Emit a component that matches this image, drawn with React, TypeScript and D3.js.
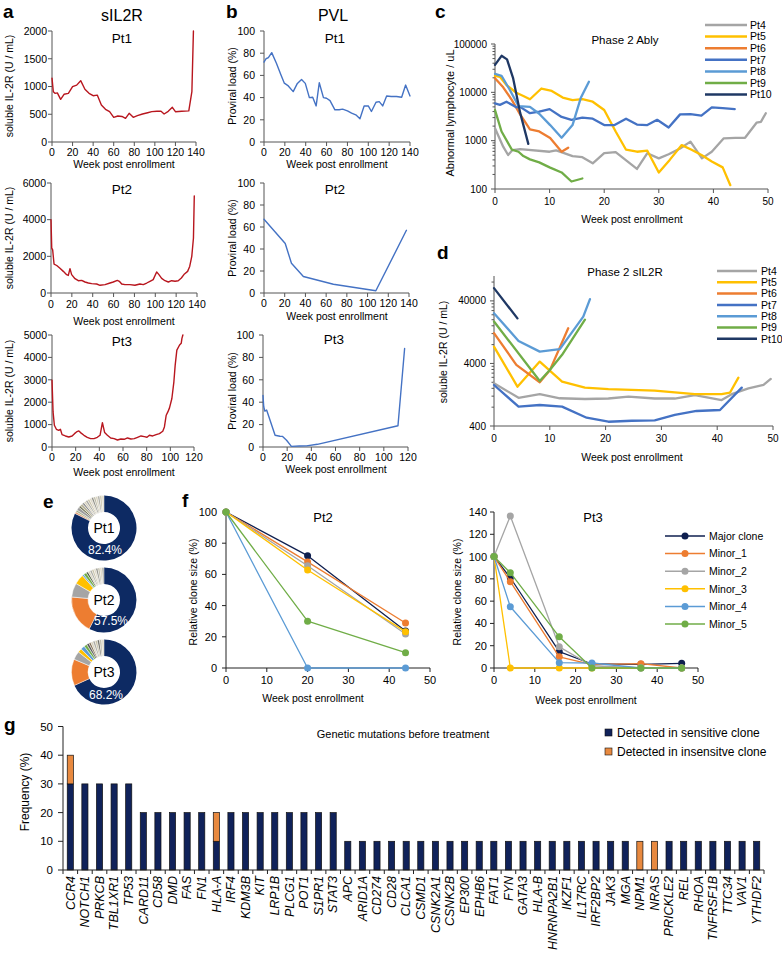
import React from "react";
import * as d3 from "d3";

type Pt = [number, number];
const FONT = "'Liberation Sans', Arial, Helvetica, sans-serif";

// ---------- a: soluble IL-2R (U/mL) ----------
const sil2rPt1: Pt[] = [[0,1150],[1.3,906],[2.9,877],[5.2,885],[8.4,769],[11.7,860],[15.9,877],[20,996],[24,1025],[27.9,1105],[32,950],[36,877],[40,834],[44,845],[48,667],[52,589],[56,546],[60,445],[64,469],[68,460],[71.5,427],[75,517],[79,445],[83,475],[88,505],[93,528],[97,547],[102,553],[106,553],[109,505],[113,553],[117,625],[120,546],[126,553],[133,560],[136,906],[137.5,2000]];
const sil2rPt2: Pt[] = [[0,4000],[0.7,2450],[1.6,2350],[2.9,1580],[5.5,1500],[8.6,1350],[11.8,1180],[15,1000],[16.6,960],[18.2,1330],[19.8,1000],[23,780],[26.2,670],[29.4,690],[32.6,600],[35.8,545],[39,510],[43.8,490],[47,420],[51.8,455],[56.6,545],[59.7,600],[63.6,690],[65.5,640],[67.8,490],[70.9,455],[75.7,455],[80.5,420],[85.3,490],[88.5,455],[91.8,545],[94.9,640],[98,730],[101.3,1150],[103.5,1000],[106.1,800],[109.3,670],[112.5,600],[115.7,670],[119,640],[122,670],[125,820],[128,1040],[131,1180],[133,1450],[135,2000],[136.6,3000],[137.4,5300]];
const sil2rPt3: Pt[] = [[0,2985],[0.9,1567],[2,970],[3.7,791],[5.7,746],[7.1,791],[8.5,552],[11.3,493],[14.2,448],[17,493],[19,597],[20.7,672],[22.7,716],[24.1,642],[27,522],[29.8,433],[32.6,373],[35.5,373],[38.3,433],[40.6,522],[42.6,1090],[44.5,642],[46.8,522],[49.6,403],[52.5,373],[55.3,313],[58.2,358],[61,343],[63.8,403],[66.7,358],[69.5,373],[72.3,433],[75.2,493],[78,463],[80.3,433],[82.3,522],[85.1,493],[88,552],[90.8,597],[93.6,701],[95,895],[96.5,1418],[97.9,1567],[99.3,1746],[101.3,2164],[103,2910],[104.1,3657],[105.5,4328],[107.8,4552],[109.2,4627],[109.8,4850],[110.6,5000]];

// ---------- b: proviral load (%) ----------
const pvlPt1: Pt[] = [[0,72],[1.9,75],[4.2,76],[7.4,80.5],[12,70.7],[16,61],[19.5,53],[23.3,50.5],[28,45.4],[32,52.8],[36,56.4],[39.6,52.8],[43.5,40],[46.7,40.3],[50,32.5],[53,53.4],[57,40],[60,39.4],[63.3,37.3],[68,29],[72,29],[75.4,29.6],[80,28],[84,26],[88,24.5],[92,21],[96,32.5],[100,32.5],[103,27.5],[107.4,35.8],[110.5,36.4],[113.8,32.5],[117.6,41.5],[122,41],[127,41],[132,40.3],[135.8,51.3],[140,41.5]];
const pvlPt2: Pt[] = [[0,67],[20.5,45],[26.5,27],[38,15],[67,8],[108,2],[137.5,57]];
const pvlPt3: Pt[] = [[0,46],[0.6,36],[1.5,32],[3,33],[10,10.5],[14,9.6],[16,9.5],[19.5,6],[23.5,0.6],[30,0.9],[36,1],[45,2.4],[111.7,19],[117.2,88]];

// ---------- c: Phase 2 Ably, abnormal lymphocyte / uL ----------
const patients = ["Pt4","Pt5","Pt6","Pt7","Pt8","Pt9","Pt10"];
const patientColors = ["#A5A5A5","#FFC000","#ED7D31","#4472C4","#5B9BD5","#70AD47","#1F3864"];
const ablyPt4: Pt[] = [[0,1800],[1.5,750],[2.4,505],[3.2,640],[4.6,670],[10,590],[11.2,630],[12.4,565],[14.2,480],[16,455],[17.9,340],[20,550],[22.1,580],[26,260],[27.9,550],[30,430],[31.8,525],[33.9,690],[35.8,955],[37.9,430],[39.7,590],[41.9,1120],[44,1140],[45.8,1150],[47.9,2350],[48.7,2450],[49.6,3700]];
const ablyPt5: Pt[] = [[0,21800],[0.9,21000],[2.1,14100],[3.9,9800],[5.2,8400],[6.4,7200],[8.5,12000],[10.4,10700],[12.4,7800],[14.2,6900],[16,7200],[17.9,6400],[20,4300],[22.1,1550],[24,650],[26,590],[27.9,620],[30,220],[32,400],[34.2,810],[36,650],[37.9,500],[39.7,370],[41.7,280],[43.1,120]];
const ablyPt6: Pt[] = [[0,19500],[1.5,12700],[3.1,6900],[4.6,3500],[6.4,1720],[8.1,1550],[10.1,1130],[12.2,590],[13.4,715]];
const ablyPt7: Pt[] = [[0,5900],[0.9,5500],[2.1,6400],[3.9,4900],[4.6,5000],[6.4,3700],[8.1,4000],[10,4500],[12.2,3100],[14,2700],[16,3000],[17.9,2850],[20,2100],[21.9,2100],[24,2850],[26,2150],[27.9,2100],[29.7,2700],[31.8,1870],[33.9,3500],[35.8,3550],[37.8,3300],[39.7,4900],[41.7,4700],[43.9,4500]];
const ablyPt8: Pt[] = [[0,24000],[1.2,22000],[2.7,11300],[4.3,5200],[6.4,5000],[8.1,3600],[10.1,2100],[12.2,1150],[14.2,2100],[15.7,7600],[17.2,16600]];
const ablyPt9: Pt[] = [[0,4300],[1.2,1550],[3.1,650],[4.3,590],[5.2,480],[6.4,410],[8.1,355],[10,280],[12.2,220],[14,143],[16,165]];
const ablyPt10: Pt[] = [[0,37000],[1.2,57000],[2.2,48000],[3.3,20000],[4.6,3800],[6.1,860]];

// ---------- d: Phase 2 sIL2R (U/mL) ----------
const dPt4: Pt[] = [[0,1930],[4.4,1130],[8.2,1290],[11.8,1110],[16.3,1080],[20.5,1100],[24.1,1180],[28.8,1100],[32.4,1100],[36,1250],[40.8,1040],[42.6,1290],[45.6,1600],[48.3,1810],[49.6,2260]];
const dPt5: Pt[] = [[0,7430],[4.2,1700],[8.2,4280],[12.2,2050],[16.3,1640],[20.5,1550],[28.8,1470],[36,1290],[40.8,1290],[42.3,1370],[43.8,2370]];
const dPt6: Pt[] = [[0,12200],[4,3800],[8.2,2000],[10,3100],[13.3,14600]];
const dPt7: Pt[] = [[0,1810],[4.4,815],[8.2,867],[12.2,815],[16.6,543],[20.5,468],[24.7,485],[28.8,493],[32.4,602],[36.3,695],[40.5,721],[44.4,1640]];
const dPt8: Pt[] = [[0,25400],[4.4,9160],[8.2,6180],[11.8,6760],[16,22400],[17.2,42700]];
const dPt9: Pt[] = [[0,18700],[8.2,2100],[10,3150],[12.2,5500],[16.3,20000]];
const dPt10: Pt[] = [[0,64000],[4.2,21000]];

// ---------- e: clone composition (%) ----------
const donutPt1 = [82.4,1.0,1.0,1.6,1.0,1.4,1.0,1.06,1.06,1.06,1.06,1.06,1.06,1.06,1.06,1.06,1.06];
const donutPt1Colors = ["#0D2A63","#E39A6E","#A9B08A","#9C9C9C","#6E7050","#B8B49A","#8C8C8C","#D6D0BB","#A8A8A0","#C8C2A8","#DCD6C4","#8E8E84","#BEBAA6","#D6D0BB","#A8A8A0","#C8C2A8","#DCD6C4"];
const donutPt2 = [57.5,19,7,5,0.8,1.5,1.0,1.025,1.025,1.025,1.025,1.025,1.025,1.025,1.025];
const donutPt2Colors = ["#0D2A63","#ED7D31","#A5A5A5","#FFC000","#5B9BD5","#70AD47","#4C5A3C","#D6D0BB","#A8A8A0","#C8C2A8","#DCD6C4","#8E8E84","#BEBAA6","#D6D0BB","#A8A8A0"];
const donutPt3 = [68.2,13.2,4.2,2,2,1.5,1.2,1.0,1.117,1.117,1.117,1.117,1.117,1.115];
const donutPt3Colors = ["#0D2A63","#ED7D31","#A5A5A5","#FFC000","#5B9BD5","#70AD47","#595959","#7F6A4F","#D6D0BB","#A8A8A0","#C8C2A8","#6E6E66","#BEBAA6","#DCD6C4"];
const donutLabels = ["82.4%","57.5%","68.2%"];

// ---------- f: relative clone size (%) ----------
const clones = ["Major clone","Minor_1","Minor_2","Minor_3","Minor_4","Minor_5"];
const cloneColors = ["#0F1F4F","#ED7D31","#A5A5A5","#FFC000","#5B9BD5","#70AD47"];
const fWeeksPt2 = [0,20,44];
const fPt2Values = [[100,72,23.7],[100,68,28.8],[100,65.5,21.8],[100,62.8,23.3],[100,0,0],[100,30,9.8]];
const fWeeksPt3 = [0,4,16,24,36,46];
const fPt3Values = [[100,81,14.6,3.6,3.3,4.2],[100,77.5,10,3,3.9,0],[100,136.4,19,2,0,0],[100,0,0,0,0,0],[100,55,4.8,4.5,0,0],[100,85.5,28,0,0,0]];

// ---------- g: genetic mutations ----------
const genes = ["CCR4","NOTCH1","PRKCB","TBL1XR1","TP53","CARD11","CD58","DMD","FAS","FN1","HLA-A","IRF4","KDM3B","KIT","LRP1B","PLCG1","POT1","S1PR1","STAT3","APC","ARID1A","CD274","CD28","CLCA1","CSMD1","CSNK2A1","CSNK2B","EP300","EPHB6","FAT1","FYN","GATA3","HLA-B","HNRNPA2B1","IKZF1","IL17RC","IRF2BP2","JAK3","MGA","NPM1","NRAS","PRICKLE2","REL","RHOA","TNFRSF1B","TTC34","VAV1","YTHDF2"];
const sensitive = [30,30,30,30,30,20,20,20,20,20,10,20,20,20,20,20,20,20,20,10,10,10,10,10,10,10,10,10,10,10,10,10,10,10,10,10,10,10,10,0,0,10,10,10,10,10,10,10];
const insensitive = [10,0,0,0,0,0,0,0,0,0,10,0,0,0,0,0,0,0,0,0,0,0,0,0,0,0,0,0,0,0,0,0,0,0,0,0,0,0,0,10,10,0,0,0,0,0,0,0];
const gLegend = ["Detected in sensitive clone","Detected in insensitve clone"];
const gColors = ["#10225A","#E8893F"];

const range = (a: number, b: number, s: number) => d3.range(a, b + s / 2, s);

type Series = { data: Pt[]; color: string; width: number; marker?: number };

function Chart(p: {
  xs: any; ys: any; xTicks: number[]; yTicks: number[]; yMinor?: number[];
  series: Series[]; tickFont: number; xTickDy: number; yTickGap: number;
  axisColor?: string; tickLen?: number;
}) {
  const ac = p.axisColor ?? "#555";
  const tl = p.tickLen ?? 4;
  const [x0, x1] = p.xs.range();
  const [yb, yt] = p.ys.range();
  const line = d3.line<Pt>().x(d => p.xs(d[0])).y(d => p.ys(d[1]));
  return (
    <g>
      <line x1={x0} x2={x1} y1={yb} y2={yb} stroke={ac} strokeWidth={1} />
      <line x1={x0} x2={x0} y1={yb} y2={yt} stroke={ac} strokeWidth={1} />
      {p.xTicks.map(t => (
        <g key={"x" + t}>
          <line x1={p.xs(t)} x2={p.xs(t)} y1={yb} y2={yb + tl} stroke={ac} />
          <text x={p.xs(t)} y={yb + p.xTickDy} fontSize={p.tickFont} textAnchor="middle">{t}</text>
        </g>
      ))}
      {p.yTicks.map(t => (
        <g key={"y" + t}>
          <line x1={x0 - tl} x2={x0} y1={p.ys(t)} y2={p.ys(t)} stroke={ac} />
          <text x={x0 - p.yTickGap} y={p.ys(t) + p.tickFont * 0.36} fontSize={p.tickFont} textAnchor="end">{t}</text>
        </g>
      ))}
      {(p.yMinor ?? []).map(t => (
        <line key={"m" + t} x1={x0 - 2.5} x2={x0} y1={p.ys(t)} y2={p.ys(t)} stroke={ac} />
      ))}
      {p.series.map((s, i) => (
        <g key={i}>
          <path d={line(s.data) ?? ""} fill="none" stroke={s.color} strokeWidth={s.width} strokeLinejoin="round" strokeLinecap="round" />
          {s.marker ? s.data.map((d, j) => (
            <circle key={j} cx={p.xs(d[0])} cy={p.ys(d[1])} r={s.marker} fill={s.color} />
          )) : null}
        </g>
      ))}
    </g>
  );
}

function VText(p: { x: number; y: number; size: number; children: React.ReactNode }) {
  return (
    <text transform={`translate(${p.x},${p.y}) rotate(-90)`} fontSize={p.size} textAnchor="middle">{p.children}</text>
  );
}

function Donut(p: { cx: number; cy: number; values: number[]; colors: string[]; name: string; pct: string; pctX: number; pctY: number }) {
  const pie = d3.pie<number>().sort(null).value(d => d);
  const arc = d3.arc<d3.PieArcDatum<number>>().innerRadius(16).outerRadius(32.5);
  const arcs = pie(p.values);
  return (
    <g>
      <g transform={`translate(${p.cx},${p.cy})`}>
        {arcs.map((a, i) => (
          <path key={i} d={arc(a) ?? ""} fill={p.colors[i]} stroke="#fff" strokeWidth={i === 0 ? 0 : 0.5} />
        ))}
        <text x={0} y={5} fontSize={14} textAnchor="middle">{p.name}</text>
      </g>
      <text x={p.pctX} y={p.pctY} fontSize={12} fill="#fff" textAnchor="middle">{p.pct}</text>
    </g>
  );
}

export default function App() {
  const lin = (d0: number, d1: number, r0: number, r1: number) => d3.scaleLinear().domain([d0, d1]).range([r0, r1]);
  const red = "#B8161E";
  const blue = "#4472C4";

  // c / d
  const cx = lin(0, 50, 495, 768);
  const cy = d3.scaleLog().domain([100, 100000]).range([189, 44]);
  const cMinor: number[] = [];
  [100, 1000, 10000].forEach(dec => d3.range(2, 10).forEach(k => cMinor.push(dec * k)));
  const dx = lin(0, 50, 494, 773);
  const dy = d3.scaleLog().domain([400, 100000]).range([426, 276]);
  const dMinor: number[] = [];
  [400, 4000, 40000].forEach(dec => d3.range(2, 10).forEach(k => { if (dec * k <= 100000) dMinor.push(dec * k); }));
  const ablyData = [ablyPt4, ablyPt5, ablyPt6, ablyPt7, ablyPt8, ablyPt9, ablyPt10];
  const dData = [dPt4, dPt5, dPt6, dPt7, dPt8, dPt9, dPt10];

  // f
  const f2x = lin(0, 50, 226, 430);
  const f2y = lin(0, 100, 668, 512);
  const f3x = lin(0, 50, 494, 698);
  const f3y = lin(0, 140, 668, 512);
  const f2Series: Series[] = fPt2Values.map((v, i) => ({ data: v.map((y, j) => [fWeeksPt2[j], y] as Pt), color: cloneColors[i], width: 1.3, marker: 3.5 }));
  const f3Series: Series[] = fPt3Values.map((v, i) => ({ data: v.map((y, j) => [fWeeksPt3[j], y] as Pt), color: cloneColors[i], width: 1.3, marker: 3.5 }));

  // g
  const gx = d3.scaleBand<string>().domain(genes).range([63, 764]).paddingInner(0.58).paddingOuter(0.29);
  const gy = lin(0, 50, 870, 726.5);
  const step = gx.step();

  const bold = { fontSize: 19, fontWeight: 700 } as const;
  const tf = 10.5;

  return (
    <svg width={782} height={953} viewBox="0 0 782 953" fontFamily={FONT}
      style={{ position: "absolute", left: 0, top: 0, background: "#fff" }}>
      <rect width={782} height={953} fill="#fff" />

      {/* ---------- a ---------- */}
      <text x={3} y={18} {...bold}>a</text>
      <text x={122} y={21} fontSize={16} textAnchor="middle">sIL2R</text>
      <Chart xs={lin(0, 140, 52, 196)} ys={lin(0, 2000, 142, 31)} xTicks={range(0, 140, 20)} yTicks={range(0, 2000, 500)}
        series={[{ data: sil2rPt1, color: red, width: 1.4 }]} tickFont={tf} xTickDy={14} yTickGap={5} />
      <text x={122} y={43} fontSize={13.5} textAnchor="middle">Pt1</text>
      <text x={124} y={168} fontSize={10.5} textAnchor="middle">Week post enrollment</text>
      <VText x={13} y={86} size={10.5}>soluble IL-2R (U / mL)</VText>

      <Chart xs={lin(0, 140, 51, 197)} ys={lin(0, 6000, 293, 183)} xTicks={range(0, 140, 20)} yTicks={range(0, 6000, 2000)}
        series={[{ data: sil2rPt2, color: red, width: 1.4 }]} tickFont={tf} xTickDy={15} yTickGap={5} />
      <text x={122} y={194} fontSize={13.5} textAnchor="middle">Pt2</text>
      <text x={124} y={325} fontSize={10.5} textAnchor="middle">Week post enrollment</text>
      <VText x={13} y={238} size={10.5}>soluble IL-2R (U / mL)</VText>

      <Chart xs={lin(0, 120, 52, 194)} ys={lin(0, 5000, 447, 335)} xTicks={range(0, 120, 20)} yTicks={range(0, 5000, 1000)}
        series={[{ data: sil2rPt3, color: red, width: 1.4 }]} tickFont={tf} xTickDy={14} yTickGap={5} />
      <text x={122} y={346} fontSize={13.5} textAnchor="middle">Pt3</text>
      <text x={124} y={476} fontSize={10.5} textAnchor="middle">Week post enrollment</text>
      <VText x={13} y={391} size={10.5}>soluble IL-2R (U / mL)</VText>

      {/* ---------- b ---------- */}
      <text x={226} y={18} {...bold}>b</text>
      <text x={333} y={21} fontSize={16} textAnchor="middle">PVL</text>
      <Chart xs={lin(0, 140, 264, 410)} ys={lin(0, 100, 142, 31)} xTicks={range(0, 140, 20)} yTicks={range(0, 100, 20)}
        series={[{ data: pvlPt1, color: blue, width: 1.4 }]} tickFont={tf} xTickDy={14} yTickGap={9} />
      <text x={335} y={43} fontSize={13.5} textAnchor="middle">Pt1</text>
      <text x={337} y={168} fontSize={10.5} textAnchor="middle">Week post enrollment</text>
      <VText x={236} y={86} size={10.5}>Proviral load (%)</VText>

      <Chart xs={lin(0, 140, 264, 409)} ys={lin(0, 100, 293, 183)} xTicks={range(0, 140, 20)} yTicks={range(0, 100, 20)}
        series={[{ data: pvlPt2, color: blue, width: 1.4 }]} tickFont={tf} xTickDy={14} yTickGap={9} />
      <text x={335} y={194} fontSize={13.5} textAnchor="middle">Pt2</text>
      <text x={337} y={320} fontSize={10.5} textAnchor="middle">Week post enrollment</text>
      <VText x={236} y={238} size={10.5}>Proviral load (%)</VText>

      <Chart xs={lin(0, 120, 263, 408)} ys={lin(0, 100, 447, 335)} xTicks={range(0, 120, 20)} yTicks={range(0, 100, 20)}
        series={[{ data: pvlPt3, color: blue, width: 1.4 }]} tickFont={tf} xTickDy={14} yTickGap={9} />
      <text x={334} y={344} fontSize={13.5} textAnchor="middle">Pt3</text>
      <text x={336} y={473} fontSize={10.5} textAnchor="middle">Week post enrollment</text>
      <VText x={236} y={391} size={10.5}>Proviral load (%)</VText>

      {/* ---------- c ---------- */}
      <text x={435} y={18} {...bold}>c</text>
      <Chart xs={cx} ys={cy} xTicks={range(0, 50, 10)} yTicks={[100, 1000, 10000, 100000]} yMinor={cMinor}
        series={ablyData.map((d, i) => ({ data: d, color: patientColors[i], width: 2.3 }))}
        tickFont={10} xTickDy={16} yTickGap={8} />
      <text x={625} y={44} fontSize={11.5} textAnchor="middle">Phase 2 Ably</text>
      <text x={632} y={223} fontSize={10.5} textAnchor="middle">Week post enrollment</text>
      <VText x={454} y={113} size={11}>Abnormal lymphocyte / uL</VText>
      {patients.map((n, i) => (
        <g key={n}>
          <line x1={705} x2={747} y1={25 + i * 11.6} y2={25 + i * 11.6} stroke={patientColors[i]} strokeWidth={2.5} />
          <text x={750} y={25 + i * 11.6 + 3.8} fontSize={10.5}>{n}</text>
        </g>
      ))}

      {/* ---------- d ---------- */}
      <text x={437} y={259} {...bold}>d</text>
      <Chart xs={dx} ys={dy} xTicks={range(0, 50, 10)} yTicks={[400, 4000, 40000]} yMinor={dMinor}
        series={dData.map((d, i) => ({ data: d, color: patientColors[i], width: 2.3 }))}
        tickFont={10} xTickDy={16} yTickGap={8} />
      <text x={625} y={276} fontSize={11.5} textAnchor="middle">Phase 2 sIL2R</text>
      <text x={632} y={461} fontSize={10.5} textAnchor="middle">Week post enrollment</text>
      <VText x={447} y={352} size={10.5}>soluble IL-2R (U / mL)</VText>
      {patients.map((n, i) => (
        <g key={n}>
          <line x1={717} x2={757} y1={271 + i * 11.3} y2={271 + i * 11.3} stroke={patientColors[i]} strokeWidth={2.5} />
          <text x={761} y={271 + i * 11.3 + 3.8} fontSize={10.5}>{n}</text>
        </g>
      ))}

      {/* ---------- e ---------- */}
      <text x={43} y={508} {...bold}>e</text>
      <Donut cx={104} cy={528} values={donutPt1} colors={donutPt1Colors} name="Pt1" pct={donutLabels[0]} pctX={105} pctY={554} />
      <Donut cx={104} cy={600} values={donutPt2} colors={donutPt2Colors} name="Pt2" pct={donutLabels[1]} pctX={111} pctY={625} />
      <Donut cx={104} cy={672} values={donutPt3} colors={donutPt3Colors} name="Pt3" pct={donutLabels[2]} pctX={106} pctY={699} />

      {/* ---------- f ---------- */}
      <text x={182} y={507} {...bold}>f</text>
      <Chart xs={f2x} ys={f2y} xTicks={range(0, 50, 10)} yTicks={range(0, 100, 20)} series={f2Series}
        tickFont={11} xTickDy={16} yTickGap={9} axisColor="#222" />
      <text x={323} y={522} fontSize={13} textAnchor="middle">Pt2</text>
      <text x={313} y={702} fontSize={10.5} textAnchor="middle">Week post enrollment</text>
      <VText x={197} y={592} size={10.5}>Relative clone size (%)</VText>

      <Chart xs={f3x} ys={f3y} xTicks={range(0, 50, 10)} yTicks={range(0, 140, 20)} series={f3Series}
        tickFont={11} xTickDy={16} yTickGap={7} axisColor="#222" />
      <text x={593} y={522} fontSize={13} textAnchor="middle">Pt3</text>
      <text x={586} y={704} fontSize={10.5} textAnchor="middle">Week post enrollment</text>
      <VText x={461} y={592} size={10.5}>Relative clone size (%)</VText>
      {clones.map((n, i) => (
        <g key={n}>
          <line x1={665} x2={705} y1={536 + i * 17.6} y2={536 + i * 17.6} stroke={cloneColors[i]} strokeWidth={1.5} />
          <circle cx={685} cy={536 + i * 17.6} r={3.5} fill={cloneColors[i]} />
          <text x={709} y={536 + i * 17.6 + 3.8} fontSize={10.5}>{n}</text>
        </g>
      ))}

      {/* ---------- g ---------- */}
      <text x={4} y={731} {...bold}>g</text>
      <line x1={63} x2={63} y1={870} y2={726.5} stroke="#222" />
      {range(0, 50, 10).map(t => (
        <g key={t}>
          <line x1={58} x2={63} y1={gy(t)} y2={gy(t)} stroke="#222" />
          <text x={53} y={gy(t) + 4} fontSize={11.5} textAnchor="end">{t}</text>
        </g>
      ))}
      <VText x={29} y={792} size={12}>Frequency (%)</VText>
      {genes.map((g, i) => {
        const x = gx(g) ?? 0;
        const w = gx.bandwidth();
        return (
          <g key={g}>
            {sensitive[i] > 0 && (
              <rect x={x} y={gy(sensitive[i])} width={w} height={gy(0) - gy(sensitive[i])} fill={gColors[0]} stroke="#111" strokeWidth={0.7} />
            )}
            {insensitive[i] > 0 && (
              <rect x={x} y={gy(sensitive[i] + insensitive[i])} width={w} height={gy(sensitive[i]) - gy(sensitive[i] + insensitive[i])} fill={gColors[1]} stroke="#111" strokeWidth={0.7} />
            )}
            <text transform={`translate(${x + w / 2 + 4.3},${876}) rotate(-90)`} fontSize={12.5} fontStyle="italic" textAnchor="end">{g}</text>
          </g>
        );
      })}
      <line x1={63} x2={764} y1={870} y2={870} stroke="#222" />
      {d3.range(0, genes.length + 1).map(i => (
        <line key={i} x1={63 + i * step} x2={63 + i * step} y1={870} y2={874} stroke="#222" />
      ))}
      <text x={403} y={738} fontSize={11} textAnchor="middle">Genetic mutations before treatment</text>
      {gLegend.map((n, i) => (
        <g key={n}>
          <rect x={605} y={729 + i * 19} width={7} height={7} fill={gColors[i]} stroke="#111" strokeWidth={0.6} />
          <text x={617} y={737 + i * 19} fontSize={12}>{n}</text>
        </g>
      ))}
    </svg>
  );
}
